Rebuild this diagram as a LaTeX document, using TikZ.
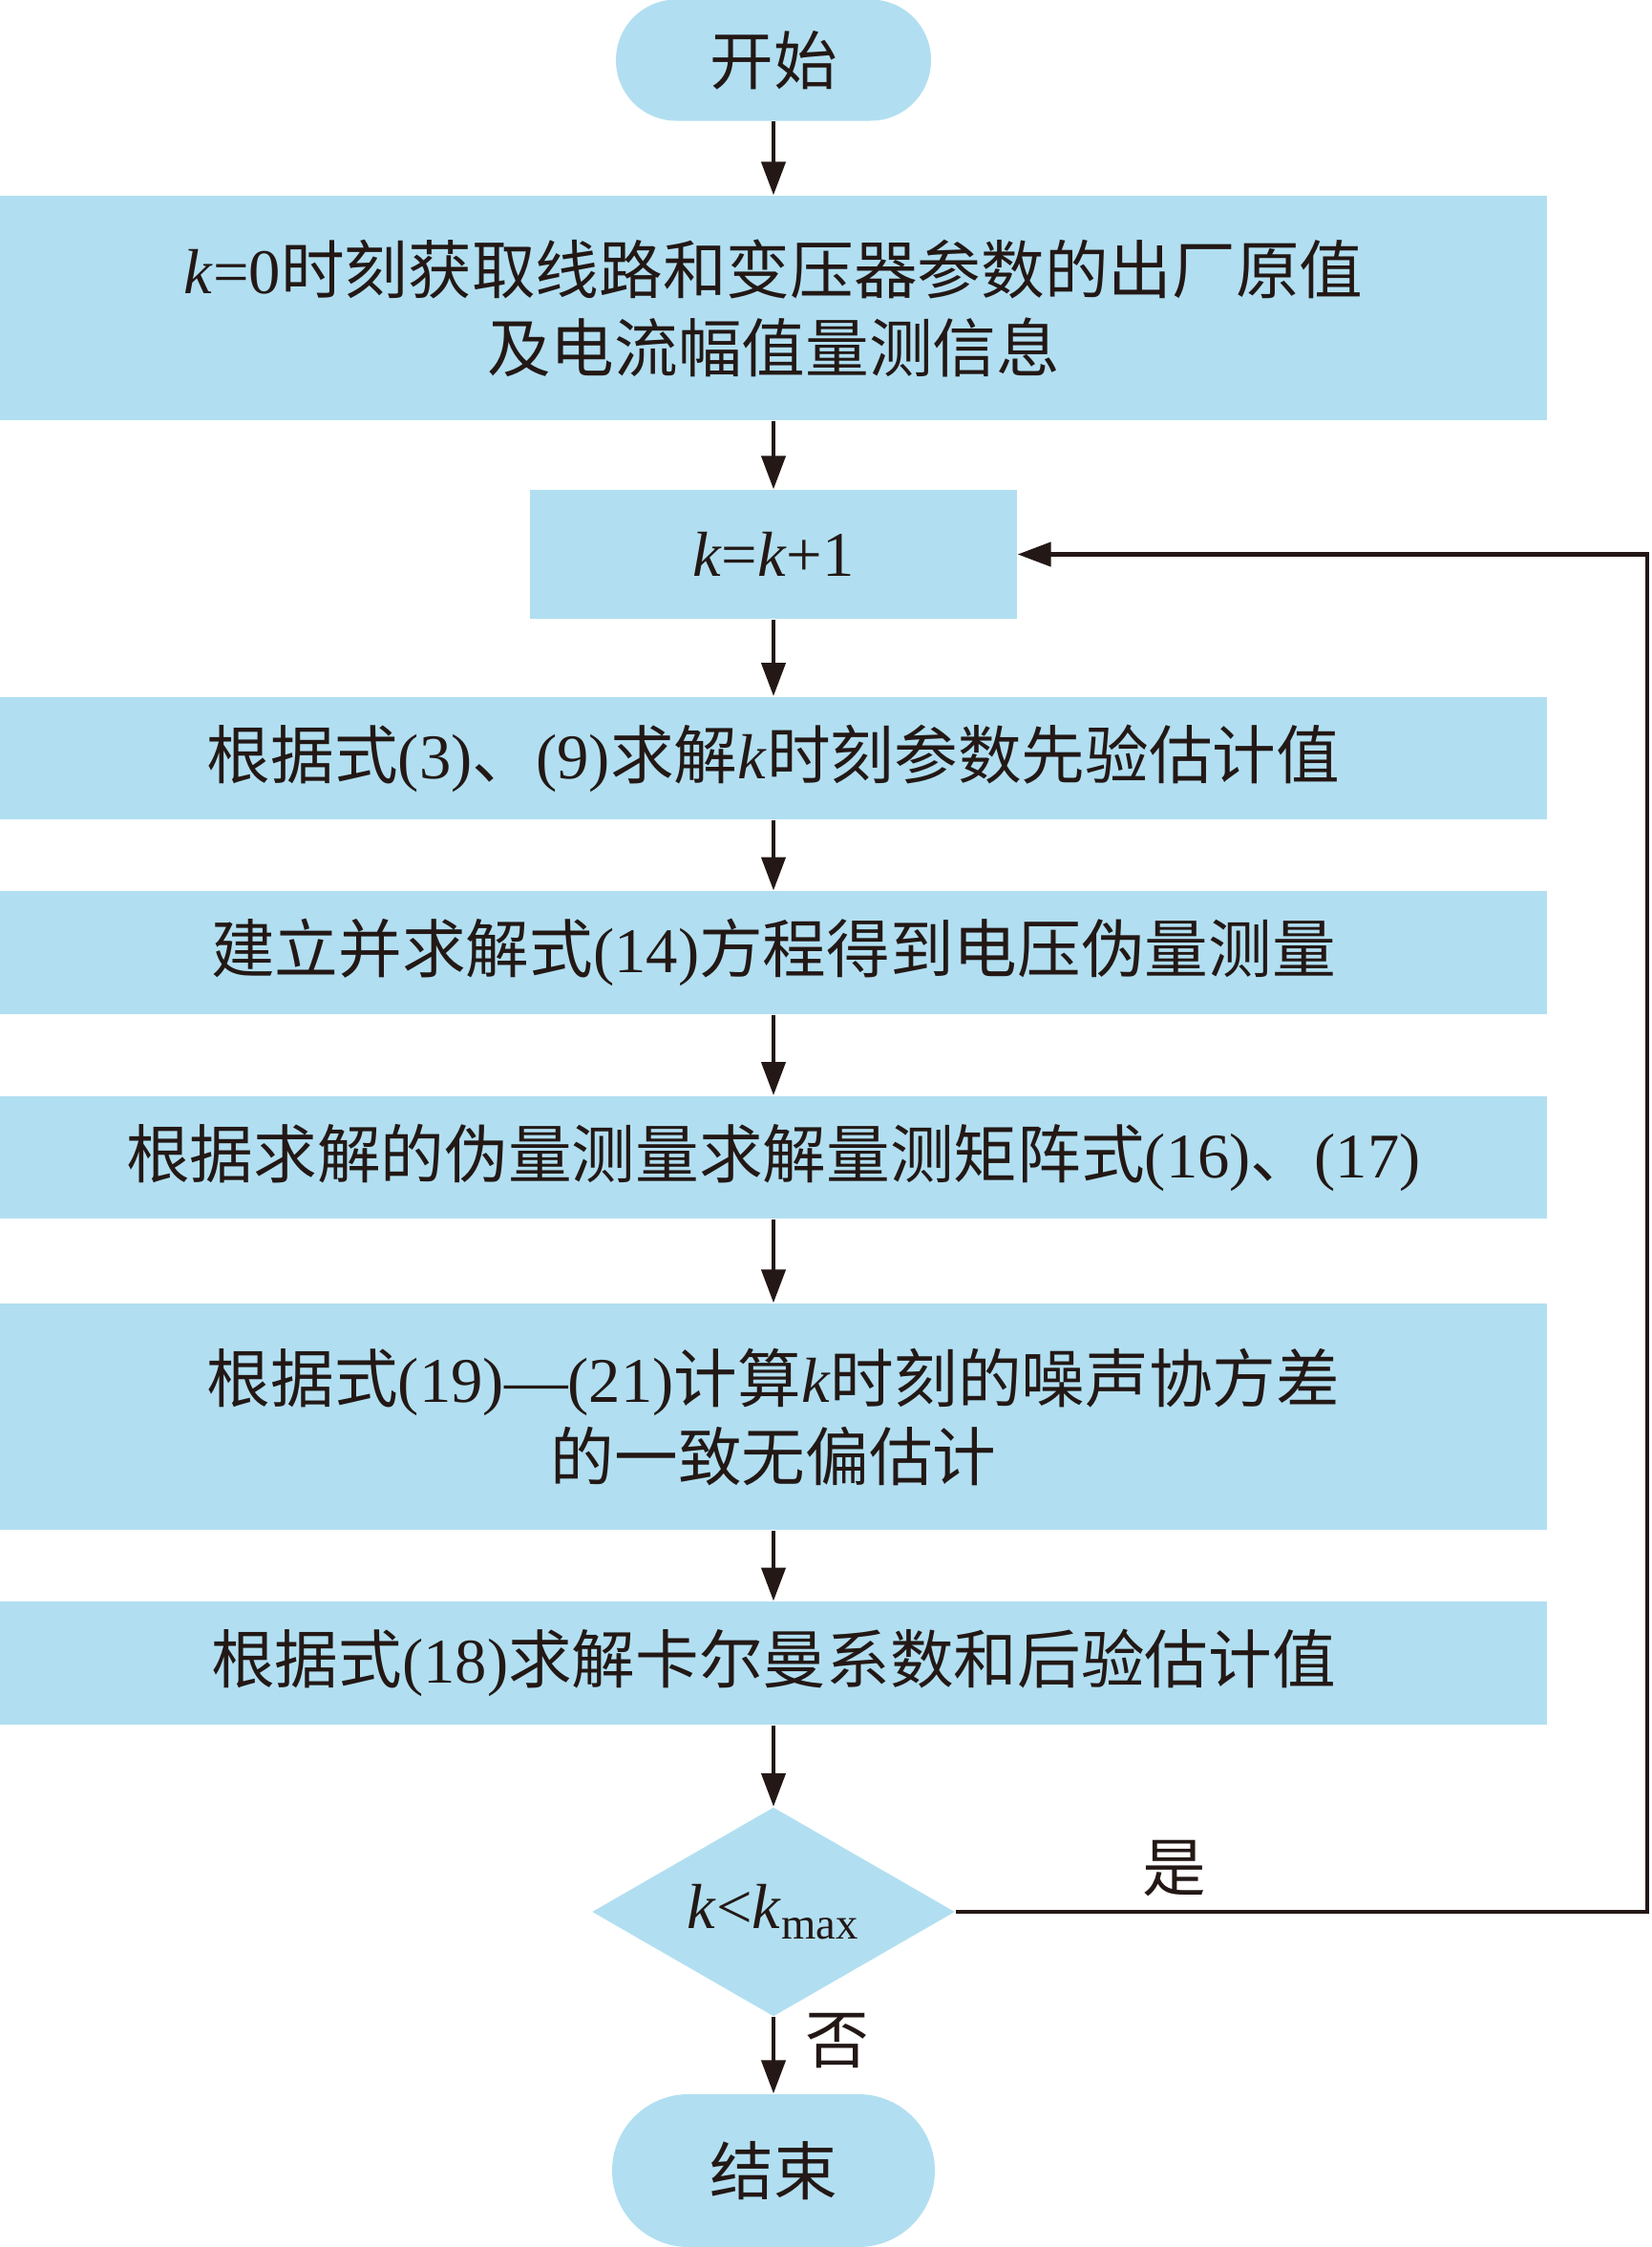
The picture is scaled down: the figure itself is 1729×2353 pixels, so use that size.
\documentclass[tikz,border=0pt]{standalone}
\usepackage{fontspec}
\setmainfont{Liberation Serif}
\newfontfamily\cjk{Noto Sans CJK SC}
\usetikzlibrary{shapes.geometric,arrows.meta}
\definecolor{boxblue}{RGB}{177,223,241}
\definecolor{inkc}{RGB}{35,24,21}
\newcommand{\zh}[1]{{\cjk #1}}
\tikzset{
  box/.style={fill=boxblue, draw=none, text=inkc, align=center, inner sep=0pt,
    font=\fontsize{20}{24.6}\selectfont},
  wide/.style={box, minimum width=486pt, minimum height=38.6pt},
  pill/.style={box, rounded corners=#1},
  lbl/.style={text=inkc, inner sep=0pt, font=\fontsize{20}{24.6}\selectfont},
  arr/.style={draw=inkc, line width=1.3pt, -{Triangle[length=10.5pt,width=7.5pt]}}
}
\begin{document}
\begin{tikzpicture}[x=0.3pt, y=-0.3pt]
    \useasboundingbox (0,0) rectangle (1729,2353);
    % start / end
    \node[pill=19pt, minimum width=99pt, minimum height=38.1pt] (start) at (810,63) {\zh{开始}};
    \node[pill=24pt, minimum width=101.4pt, minimum height=48pt] (stop) at (810,2273) {\zh{结束}};
    % process boxes
    \node[wide, minimum height=70.5pt] (init) at (810,322.5)
        {\textit{k}=0\zh{时刻获取线路和变压器参数的出厂原值}\\\zh{及电流幅值量测信息}};
    \node[box, minimum width=153pt, minimum height=40.5pt] (incr) at (810,580.5)
        {\textit{k}=\textit{k}+1};
    \node[wide] (prior) at (810,794)
        {\zh{根据式}(3)\zh{、}(9)\zh{求解}\textit{k}\zh{时刻参数先验估计值}};
    \node[wide] (pseudo) at (810,997.5)
        {\zh{建立并求解式}(14)\zh{方程得到电压伪量测量}};
    \node[wide] (meas) at (810,1212)
        {\zh{根据求解的伪量测量求解量测矩阵式}(16)\zh{、}(17)};
    \node[wide, minimum height=71.1pt] (noise) at (810,1483.5)
        {\zh{根据式}(19)—(21)\zh{计算}\textit{k}\zh{时刻的噪声协方差}\\\zh{的一致无偏估计}};
    \node[wide] (post) at (810,1741.5)
        {\zh{根据式}(18)\zh{求解卡尔曼系数和后验估计值}};
    % decision
    \node[box, shape=diamond, aspect=1.74, minimum width=114pt, minimum height=65.7pt] (check) at (810,2002)
        {\textit{k}<\textit{k}\textsubscript{max}};
    % labels
    \node[lbl] (yes) at (1230,1957) {\zh{是}};
    \node[lbl] (no) at (877,2137) {\zh{否}};
    % connectors
    \draw[arr] (start) -- (init);
    \draw[arr] (init) -- (incr);
    \draw[arr] (incr) -- (prior);
    \draw[arr] (prior) -- (pseudo);
    \draw[arr] (pseudo) -- (meas);
    \draw[arr] (meas) -- (noise);
    \draw[arr] (noise) -- (post);
    \draw[arr] (post) -- (check);
    \draw[arr] (check) -- (stop);
    \draw[arr] (check.east) -- (1725,2002) -- (1725,580.5) -- (incr.east);
\end{tikzpicture}
\end{document}
